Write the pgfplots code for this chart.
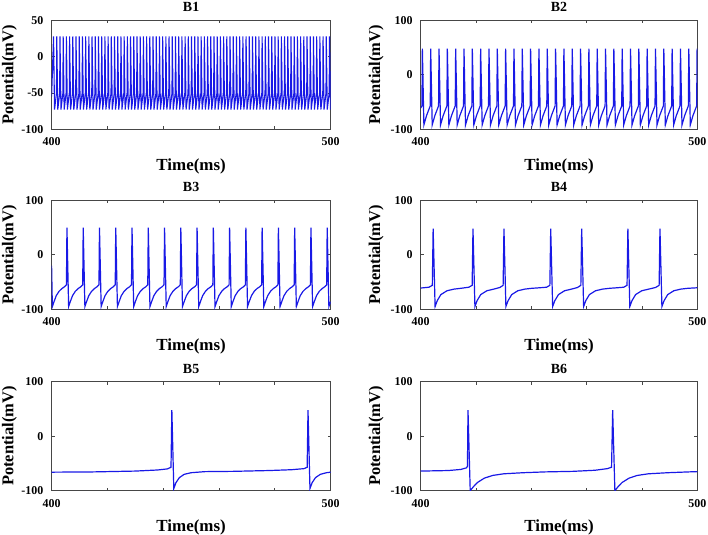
\documentclass[border=0pt]{standalone}
\usepackage{fontspec}
\setmainfont{Liberation Serif}
\usepackage{pgfplots}
\pgfplotsset{compat=1.18}

\definecolor{trace}{RGB}{25,25,230}
\definecolor{frame}{RGB}{70,70,70}

\pgfplotsset{
  panel/.style={
    scale only axis, height=109bp,
    xmin=400, xmax=500,
    xtick={400,420,440,460,480,500},
    xticklabels={400,,,,,500},
    tick align=inside, major tick length=3bp,
    axis line style={frame, line width=0.9bp},
    every tick/.style={frame, line width=0.7bp},
    tick label style={font=\fontsize{12}{13}\bfseries\selectfont, inner sep=0pt},
    xticklabel style={anchor=base, yshift=-16.5bp},
    yticklabel style={anchor=east, xshift=-8bp},
    every axis title/.style={at={(0.5,1)}, anchor=base, yshift=8.5bp,
      inner sep=0pt, font=\fontsize{14}{15}\bfseries\selectfont},
    xlabel={Time(ms)},
    xlabel style={at={(0.5,0)}, anchor=base, yshift=-41bp,
      font=\fontsize{17}{18}\bfseries\selectfont},
    ylabel={Potential(mV)},
    ylabel style={anchor=base, inner sep=0pt, font=\fontsize{16.5}{17}\bfseries\selectfont},
    ymin=-100, ymax=100, ytick={-100,0,100}, yticklabels={-100,0,100},
  },
  leftcol/.style={panel, width=279bp, ylabel style={at={(-0.137,0.5)}}},
  rightcol/.style={panel, width=276.6bp, ylabel style={at={(-0.147,0.5)}}},
  trc/.style={trace, line width=1.2bp},
}

\begin{document}
\begin{tikzpicture}
\path[use as bounding box] (0,0) rectangle (708bp,535bp);

% ---- B1 ----
\begin{axis}[leftcol, at={(51.6bp,405.7bp)}, anchor=south west, title={B1},
  ymin=-100, ymax=50, ytick={-100,-50,0,50}, yticklabels={-100,-50,0,50}]
\addplot[trace, line width=1.1bp] coordinates {
(400,-55)
(400.70,28)(401.05,-73)(401.75,-50)
(401.85,28)(402.20,-73)(402.90,-50)
(403.00,28)(403.35,-73)(404.05,-50)
(404.15,28)(404.50,-73)(405.20,-50)
(405.30,28)(405.65,-73)(406.35,-50)
(406.45,28)(406.80,-73)(407.50,-50)
(407.60,28)(407.95,-73)(408.65,-50)
(408.75,28)(409.10,-73)(409.80,-50)
(409.90,28)(410.25,-73)(410.95,-50)
(411.05,28)(411.40,-73)(412.10,-50)
(412.20,28)(412.55,-73)(413.25,-50)
(413.35,28)(413.70,-73)(414.40,-50)
(414.50,28)(414.85,-73)(415.55,-50)
(415.65,28)(416.00,-73)(416.70,-50)
(416.80,28)(417.15,-73)(417.85,-50)
(417.95,28)(418.30,-73)(419.00,-50)
(419.10,28)(419.45,-73)(420.15,-50)
(420.25,28)(420.60,-73)(421.30,-50)
(421.40,28)(421.75,-73)(422.45,-50)
(422.55,28)(422.90,-73)(423.60,-50)
(423.70,28)(424.05,-73)(424.75,-50)
(424.85,28)(425.20,-73)(425.90,-50)
(426.00,28)(426.35,-73)(427.05,-50)
(427.15,28)(427.50,-73)(428.20,-50)
(428.30,28)(428.65,-73)(429.35,-50)
(429.45,28)(429.80,-73)(430.50,-50)
(430.60,28)(430.95,-73)(431.65,-50)
(431.75,28)(432.10,-73)(432.80,-50)
(432.90,28)(433.25,-73)(433.95,-50)
(434.05,28)(434.40,-73)(435.10,-50)
(435.20,28)(435.55,-73)(436.25,-50)
(436.35,28)(436.70,-73)(437.40,-50)
(437.50,28)(437.85,-73)(438.55,-50)
(438.65,28)(439.00,-73)(439.70,-50)
(439.80,28)(440.15,-73)(440.85,-50)
(440.95,28)(441.30,-73)(442.00,-50)
(442.10,28)(442.45,-73)(443.15,-50)
(443.25,28)(443.60,-73)(444.30,-50)
(444.40,28)(444.75,-73)(445.45,-50)
(445.55,28)(445.90,-73)(446.60,-50)
(446.70,28)(447.05,-73)(447.75,-50)
(447.85,28)(448.20,-73)(448.90,-50)
(449.00,28)(449.35,-73)(450.05,-50)
(450.15,28)(450.50,-73)(451.20,-50)
(451.30,28)(451.65,-73)(452.35,-50)
(452.45,28)(452.80,-73)(453.50,-50)
(453.60,28)(453.95,-73)(454.65,-50)
(454.75,28)(455.10,-73)(455.80,-50)
(455.90,28)(456.25,-73)(456.95,-50)
(457.05,28)(457.40,-73)(458.10,-50)
(458.20,28)(458.55,-73)(459.25,-50)
(459.35,28)(459.70,-73)(460.40,-50)
(460.50,28)(460.85,-73)(461.55,-50)
(461.65,28)(462.00,-73)(462.70,-50)
(462.80,28)(463.15,-73)(463.85,-50)
(463.95,28)(464.30,-73)(465.00,-50)
(465.10,28)(465.45,-73)(466.15,-50)
(466.25,28)(466.60,-73)(467.30,-50)
(467.40,28)(467.75,-73)(468.45,-50)
(468.55,28)(468.90,-73)(469.60,-50)
(469.70,28)(470.05,-73)(470.75,-50)
(470.85,28)(471.20,-73)(471.90,-50)
(472.00,28)(472.35,-73)(473.05,-50)
(473.15,28)(473.50,-73)(474.20,-50)
(474.30,28)(474.65,-73)(475.35,-50)
(475.45,28)(475.80,-73)(476.50,-50)
(476.60,28)(476.95,-73)(477.65,-50)
(477.75,28)(478.10,-73)(478.80,-50)
(478.90,28)(479.25,-73)(479.95,-50)
(480.05,28)(480.40,-73)(481.10,-50)
(481.20,28)(481.55,-73)(482.25,-50)
(482.35,28)(482.70,-73)(483.40,-50)
(483.50,28)(483.85,-73)(484.55,-50)
(484.65,28)(485.00,-73)(485.70,-50)
(485.80,28)(486.15,-73)(486.85,-50)
(486.95,28)(487.30,-73)(488.00,-50)
(488.10,28)(488.45,-73)(489.15,-50)
(489.25,28)(489.60,-73)(490.30,-50)
(490.40,28)(490.75,-73)(491.45,-50)
(491.55,28)(491.90,-73)(492.60,-50)
(492.70,28)(493.05,-73)(493.75,-50)
(493.85,28)(494.20,-73)(494.90,-50)
(495.00,28)(495.35,-73)(496.05,-50)
(496.15,28)(496.50,-73)(497.20,-50)
(497.30,28)(497.65,-73)(498.35,-50)
(498.45,28)(498.80,-73)(499.50,-50)
(499.60,28)(499.95,-73)(500.65,-50)
};
\end{axis}

% ---- B2 ----
\begin{axis}[rightcol, at={(420.7bp,405.7bp)}, anchor=south west, title={B2}]
\addplot[trc] coordinates {
(400,-61)(400.45,-57)
(400.60,48)(401.15,-92)(402.10,-75)(403.45,-57)
(403.61,48)(404.16,-92)(405.11,-75)(406.46,-57)
(406.62,48)(407.17,-92)(408.12,-75)(409.47,-57)
(409.63,48)(410.18,-92)(411.13,-75)(412.48,-57)
(412.64,48)(413.19,-92)(414.14,-75)(415.49,-57)
(415.65,48)(416.20,-92)(417.15,-75)(418.50,-57)
(418.66,48)(419.21,-92)(420.16,-75)(421.51,-57)
(421.67,48)(422.22,-92)(423.17,-75)(424.52,-57)
(424.68,48)(425.23,-92)(426.18,-75)(427.53,-57)
(427.69,48)(428.24,-92)(429.19,-75)(430.54,-57)
(430.70,48)(431.25,-92)(432.20,-75)(433.55,-57)
(433.71,48)(434.26,-92)(435.21,-75)(436.56,-57)
(436.72,48)(437.27,-92)(438.22,-75)(439.57,-57)
(439.73,48)(440.28,-92)(441.23,-75)(442.58,-57)
(442.74,48)(443.29,-92)(444.24,-75)(445.59,-57)
(445.75,48)(446.30,-92)(447.25,-75)(448.60,-57)
(448.76,48)(449.31,-92)(450.26,-75)(451.61,-57)
(451.77,48)(452.32,-92)(453.27,-75)(454.62,-57)
(454.78,48)(455.33,-92)(456.28,-75)(457.63,-57)
(457.79,48)(458.34,-92)(459.29,-75)(460.64,-57)
(460.80,48)(461.35,-92)(462.30,-75)(463.65,-57)
(463.81,48)(464.36,-92)(465.31,-75)(466.66,-57)
(466.82,48)(467.37,-92)(468.32,-75)(469.67,-57)
(469.83,48)(470.38,-92)(471.33,-75)(472.68,-57)
(472.84,48)(473.39,-92)(474.34,-75)(475.69,-57)
(475.85,48)(476.40,-92)(477.35,-75)(478.70,-57)
(478.86,48)(479.41,-92)(480.36,-75)(481.71,-57)
(481.87,48)(482.42,-92)(483.37,-75)(484.72,-57)
(484.88,48)(485.43,-92)(486.38,-75)(487.73,-57)
(487.89,48)(488.44,-92)(489.39,-75)(490.74,-57)
(490.90,48)(491.45,-92)(492.40,-75)(493.75,-57)
(493.91,48)(494.46,-92)(495.41,-75)(496.76,-57)
(496.92,48)(497.47,-92)(498.42,-75)(499.77,-57)
(499.93,48)(500.48,-92)
};
\end{axis}

% ---- B3 ----
\begin{axis}[leftcol, at={(51.6bp,225.7bp)}, anchor=south west, title={B3}]
\addplot[trc] coordinates {
(400,-20)(400.27,-95)(400.87,-86)(401.67,-75)(402.67,-67)(403.67,-62)(404.67,-58.5)(405.32,-55)
(405.50,50)(406.10,-95)(406.70,-86)(407.50,-75)(408.50,-67)(409.50,-62)(410.50,-58.5)(411.15,-55)
(411.33,50)(411.93,-95)(412.53,-86)(413.33,-75)(414.33,-67)(415.33,-62)(416.33,-58.5)(416.98,-55)
(417.16,50)(417.76,-95)(418.36,-86)(419.16,-75)(420.16,-67)(421.16,-62)(422.16,-58.5)(422.81,-55)
(422.99,50)(423.59,-95)(424.19,-86)(424.99,-75)(425.99,-67)(426.99,-62)(427.99,-58.5)(428.64,-55)
(428.82,50)(429.42,-95)(430.02,-86)(430.82,-75)(431.82,-67)(432.82,-62)(433.82,-58.5)(434.47,-55)
(434.65,50)(435.25,-95)(435.85,-86)(436.65,-75)(437.65,-67)(438.65,-62)(439.65,-58.5)(440.30,-55)
(440.48,50)(441.08,-95)(441.68,-86)(442.48,-75)(443.48,-67)(444.48,-62)(445.48,-58.5)(446.13,-55)
(446.31,50)(446.91,-95)(447.51,-86)(448.31,-75)(449.31,-67)(450.31,-62)(451.31,-58.5)(451.96,-55)
(452.14,50)(452.74,-95)(453.34,-86)(454.14,-75)(455.14,-67)(456.14,-62)(457.14,-58.5)(457.79,-55)
(457.97,50)(458.57,-95)(459.17,-86)(459.97,-75)(460.97,-67)(461.97,-62)(462.97,-58.5)(463.62,-55)
(463.80,50)(464.40,-95)(465.00,-86)(465.80,-75)(466.80,-67)(467.80,-62)(468.80,-58.5)(469.45,-55)
(469.63,50)(470.23,-95)(470.83,-86)(471.63,-75)(472.63,-67)(473.63,-62)(474.63,-58.5)(475.28,-55)
(475.46,50)(476.06,-95)(476.66,-86)(477.46,-75)(478.46,-67)(479.46,-62)(480.46,-58.5)(481.11,-55)
(481.29,50)(481.89,-95)(482.49,-86)(483.29,-75)(484.29,-67)(485.29,-62)(486.29,-58.5)(486.94,-55)
(487.12,50)(487.72,-95)(488.32,-86)(489.12,-75)(490.12,-67)(491.12,-62)(492.12,-58.5)(492.77,-55)
(492.95,50)(493.55,-95)(494.15,-86)(494.95,-75)(495.95,-67)(496.95,-62)(497.95,-58.5)(498.60,-55)
(498.78,50)(499.38,-95)(499.98,-86)
};
\end{axis}

% ---- B4 ----
\begin{axis}[rightcol, at={(420.7bp,225.7bp)}, anchor=south west, title={B4}]
\addplot[trc] coordinates {
(400,-61)(403.0,-59.5)(404.2,-56)
(404.5,48)(405.2,-95)(406.0,-84)(407.3,-73)(409.5,-66)(412.0,-63)(414.5,-61.5)(417.4,-59.5)(418.6,-56)
(418.9,48)(419.6,-95)(420.4,-84)(421.7,-73)(423.9,-66)(426.4,-63)(428.6,-60)(429.8,-56)
(430.1,48)(430.8,-95)(431.6,-84)(432.9,-73)(435.1,-66)(437.6,-63)(440.1,-61.5)(443.0,-60.5)(445.5,-59.5)(446.7,-56)
(447.0,48)(447.7,-95)(448.5,-84)(449.8,-73)(452.0,-66)(454.5,-63)(456.7,-60)(457.9,-56)
(458.2,48)(458.9,-95)(459.7,-84)(461.0,-73)(463.2,-66)(465.7,-63)(468.2,-61.5)(471.0,-60.5)(473.4,-59.5)(474.6,-56)
(474.9,48)(475.6,-95)(476.4,-84)(477.7,-73)(479.9,-66)(482.4,-63)(484.9,-60)(486.2,-56)
(486.5,48)(487.2,-95)(488.0,-84)(489.3,-73)(491.5,-66)(494.0,-63)(496.5,-61.5)(500,-60.5)
};
\end{axis}

% ---- B5 ----
\begin{axis}[leftcol, at={(51.6bp,44.3bp)}, anchor=south west, title={B5}]
\addplot[trc] coordinates {
(400,-66)(415,-65.5)(430,-64)(438,-62)(441.5,-60)(442.8,-57)
(443.1,48)(443.8,-96)(444.6,-85)(445.8,-76)(447.5,-70)(450,-67)(455,-65)(465,-64.5)(478,-63)(486,-61.5)(490.5,-59.5)(491.6,-57)
(491.9,48)(492.6,-96)(493.4,-85)(494.6,-76)(496.3,-70)(498.5,-67)(500,-66)
};
\end{axis}

% ---- B6 ----
\begin{axis}[rightcol, at={(420.7bp,44.3bp)}, anchor=south west, title={B6}]
\addplot[trc] coordinates {
(400,-64)(410,-63)(414.5,-61)(416.6,-58)(416.9,-55)
(417.1,48)(417.9,-100)(419,-93)(420.5,-85)(423,-77)(426,-72)(430,-69)(437,-67)(445,-65.5)(455,-64.5)(463,-62.5)(467.5,-59.5)(469.0,-57)
(469.4,48)(470.2,-100)(471.3,-93)(472.8,-85)(475.3,-77)(478.3,-72)(482.3,-69)(489.3,-67)(497,-65.5)(500,-65)
};
\end{axis}
\end{tikzpicture}
\end{document}
